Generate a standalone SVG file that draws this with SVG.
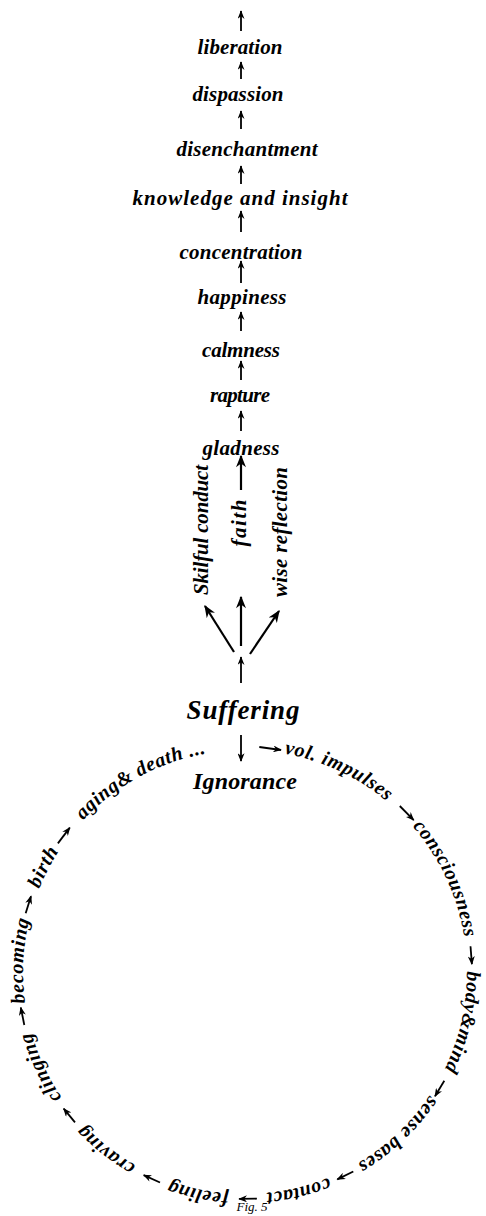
<svg xmlns="http://www.w3.org/2000/svg" width="486" height="1216" viewBox="0 0 486 1216">
<style>
text{font-family:"Liberation Serif","DejaVu Serif",serif;font-style:italic;font-weight:bold;fill:#000}
.col{font-size:21px;text-anchor:middle}
.big{font-size:27px;text-anchor:middle}
.ign{font-size:24px;text-anchor:middle}
.ring{font-size:20px;letter-spacing:0.6px}
.cap{font-size:13px;text-anchor:middle;font-weight:normal}
.c{stroke:#000;stroke-width:1.8;fill:none;marker-end:url(#ah)}
.cb{stroke:#000;stroke-width:2.2;fill:none;marker-end:url(#ahb)}
</style>
<defs>
<marker id="ah" viewBox="0 0 10 8" refX="9" refY="4" markerWidth="9" markerHeight="7" markerUnits="userSpaceOnUse" orient="auto"><path d="M0,0 L10,4 L0,8 L3,4 z" fill="#000"/></marker>
<marker id="ahb" viewBox="0 0 10 8" refX="9" refY="4" markerWidth="13" markerHeight="10" markerUnits="userSpaceOnUse" orient="auto"><path d="M0,0 L10,4 L0,8 L3,4 z" fill="#000"/></marker>
<path id="circ" d="M245,750 A222,222 0 0,1 245,1194 A222,222 0 0,1 245,750"/>
</defs>

<g id="connectors">
<line class="c" x1="241" y1="31" x2="241" y2="11"/>
<line class="c" x1="241" y1="79" x2="241" y2="62"/>
<line class="c" x1="241" y1="129" x2="241" y2="111"/>
<line class="c" x1="241" y1="184" x2="241" y2="166"/>
<line class="c" x1="241" y1="232" x2="241" y2="211"/>
<line class="c" x1="241" y1="283" x2="241" y2="261"/>
<line class="c" x1="241" y1="331" x2="241" y2="312"/>
<line class="c" x1="241" y1="380" x2="241" y2="361"/>
<line class="c" x1="241" y1="431" x2="241" y2="411"/>
<line class="cb" x1="241" y1="490" x2="241" y2="456"/>
<line class="cb" x1="234" y1="652" x2="205" y2="606"/>
<line class="cb" x1="241" y1="646" x2="241" y2="597"/>
<line class="cb" x1="250" y1="654" x2="279" y2="611"/>
<line class="c" x1="241" y1="683" x2="241" y2="657"/>
<line class="c" x1="241" y1="735" x2="241" y2="761"/>
<line class="c" x1="259.3" y1="747" x2="281" y2="750"/>
<line class="c" x1="399.8" y1="806" x2="413.7" y2="820.1"/>
<line class="c" x1="470.5" y1="946.3" x2="471.9" y2="964.1"/>
<line class="c" x1="444.3" y1="1080.7" x2="435" y2="1096.3"/>
<line class="c" x1="353.3" y1="1171.5" x2="337.3" y2="1179.4"/>
<line class="c" x1="256.9" y1="1198.7" x2="239.1" y2="1198.9"/>
<line class="c" x1="160" y1="1182.5" x2="143.7" y2="1175.1"/>
<line class="c" x1="75" y1="1122.4" x2="63.7" y2="1108.6"/>
<line class="c" x1="24.3" y1="1025" x2="20.8" y2="1007.5"/>
<line class="c" x1="25.7" y1="913.2" x2="31" y2="896.2"/>
<line class="c" x1="57.9" y1="843.4" x2="69.8" y2="827.6"/>
</g>

<g id="liberation"><text class="col" x="240" y="54" textLength="85">liberation</text></g>
<g id="dispassion"><text class="col" x="238" y="101" textLength="91">dispassion</text></g>
<g id="disenchantment"><text class="col" x="247" y="156" textLength="141">disenchantment</text></g>
<g id="knowledge"><text class="col" x="240" y="205" textLength="215">knowledge and insight</text></g>
<g id="concentration"><text class="col" x="241" y="259" textLength="123">concentration</text></g>
<g id="happiness"><text class="col" x="242" y="304" textLength="89">happiness</text></g>
<g id="calmness"><text class="col" x="241" y="357" textLength="78">calmness</text></g>
<g id="rapture"><text class="col" x="240" y="402" textLength="60">rapture</text></g>
<g id="gladness"><text class="col" x="241" y="455" textLength="77">gladness</text></g>

<g id="skilful"><text class="col" transform="translate(208,530) rotate(-90)" textLength="130">Skilful conduct</text></g>
<g id="faith"><text class="col" transform="translate(246,523) rotate(-90)" textLength="47">faith</text></g>
<g id="wise"><text class="col" transform="translate(287,532) rotate(-90)" textLength="130">wise reflection</text></g>

<g id="suffering"><text class="big" x="243" y="719" textLength="113">Suffering</text></g>
<g id="ignorance"><text class="ign" x="245" y="789" textLength="104">Ignorance</text></g>

<g id="vol"><text class="ring"><textPath href="#circ" startOffset="39.5">vol.</textPath></text><text class="ring"><textPath href="#circ" startOffset="77">impulses</textPath></text></g>
<g id="consciousness"><text class="ring"><textPath href="#circ" startOffset="251.9" text-anchor="middle">consciousness</textPath></text></g>
<g id="bodymind"><text class="ring"><textPath href="#circ" startOffset="399.1" text-anchor="middle">body&amp;mind</textPath></text></g>
<g id="sensebases"><text class="ring"><textPath href="#circ" startOffset="529.7" text-anchor="middle">sense bases</textPath></text></g>
<g id="contact"><text class="ring"><textPath href="#circ" startOffset="644" text-anchor="middle">contact</textPath></text></g>
<g id="feeling"><text class="ring"><textPath href="#circ" startOffset="743.9" text-anchor="middle">feeling</textPath></text></g>
<g id="craving"><text class="ring"><textPath href="#circ" startOffset="844.7" text-anchor="middle">craving</textPath></text></g>
<g id="clinging"><text class="ring"><textPath href="#circ" startOffset="948.9" text-anchor="middle">clinging</textPath></text></g>
<g id="becoming"><text class="ring"><textPath href="#circ" startOffset="1057" text-anchor="middle">becoming</textPath></text></g>
<g id="birth"><text class="ring"><textPath href="#circ" startOffset="1152.3" text-anchor="middle">birth</textPath></text></g>
<g id="aging"><text class="ring"><textPath href="#circ" startOffset="1272.8" text-anchor="middle">aging&amp; death</textPath></text><text class="ring"><textPath href="#circ" startOffset="1338.7">...</textPath></text></g>

<g id="caption"><text class="cap" x="252" y="1211">Fig. 5</text></g>
</svg>
